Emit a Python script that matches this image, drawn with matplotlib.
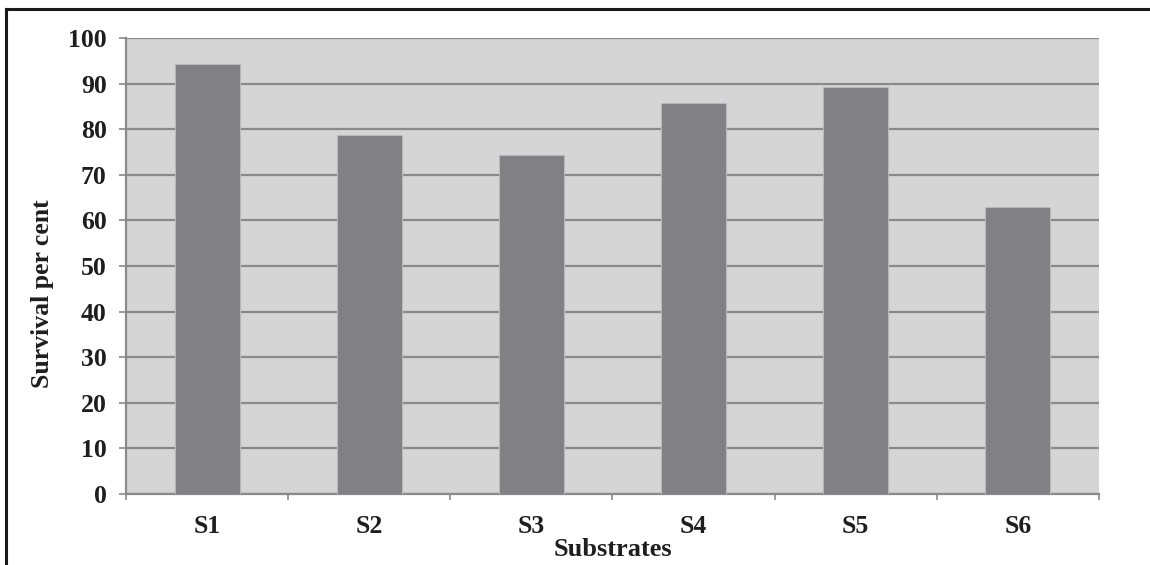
import matplotlib
matplotlib.use("Agg")
import matplotlib.pyplot as plt
from matplotlib.lines import Line2D

substrates = ["S1", "S2", "S3", "S4", "S5", "S6"]
survival = [94.4, 78.7, 74.3, 85.7, 89.3, 63.0]
y_ticks = [0, 10, 20, 30, 40, 50, 60, 70, 80, 90, 100]

plt.rcParams["font.family"] = ["Liberation Serif", "DejaVu Serif"]
plt.rcParams["font.weight"] = "bold"

W, H = 1150, 565
fig = plt.figure(figsize=(W / 100, H / 100), dpi=100)
ax = fig.add_axes([126 / W, 1 - 494 / H, (1099 - 126) / W, (494 - 38) / H])

ax.set_facecolor("#d5d5d5")
x = list(range(1, len(substrates) + 1))
ax.bar(x, survival, width=0.4, color="#808085", edgecolor="#b8b8b8",
       linewidth=0.8, zorder=3)

ax.set_xlim(0.5, len(substrates) + 0.5)
ax.set_ylim(0, 100)
ax.set_yticks(y_ticks)
ax.set_yticklabels([str(v) for v in y_ticks])
ax.yaxis.grid(True, color="#8a8a8a", linewidth=1.6, zorder=1)
ax.set_axisbelow(True)

ax.set_xticks(x)
ax.set_xticklabels(substrates)
ax.set_xticks([i + 0.5 for i in range(len(substrates) + 1)], minor=True)
ax.tick_params(axis="x", which="major", length=0, pad=15, labelsize=18.5,
               colors="#1e1e1e")
ax.tick_params(axis="x", which="minor", length=4.5, width=1.2, color="#8a8a8a")
ax.tick_params(axis="y", length=5, width=1.2, color="#8a8a8a", pad=9,
               labelsize=18.5, labelcolor="#1e1e1e")

for side in ("top", "right"):
    ax.spines[side].set_visible(False)
for side in ("left", "bottom"):
    ax.spines[side].set_color("#8a8a8a")
    ax.spines[side].set_linewidth(1.6)

ax.set_xlabel("Substrates", fontsize=19, fontweight="bold", color="#1e1e1e",
              labelpad=0)
ax.set_ylabel("Survival per cent", fontsize=18.5, fontweight="bold",
              color="#1e1e1e")
ax.yaxis.set_label_coords(-0.074, 0.4386)

# frame around the figure
fig.add_artist(Line2D([6 / W, 1.0], [1 - 9 / H, 1 - 9 / H],
                      transform=fig.transFigure, color="#1a1a1a", linewidth=2.2))
fig.add_artist(Line2D([6 / W, 6 / W], [0.0, 1 - 9 / H],
                      transform=fig.transFigure, color="#1a1a1a", linewidth=2.2))

fig.savefig("out.png", dpi=100, facecolor="white")
